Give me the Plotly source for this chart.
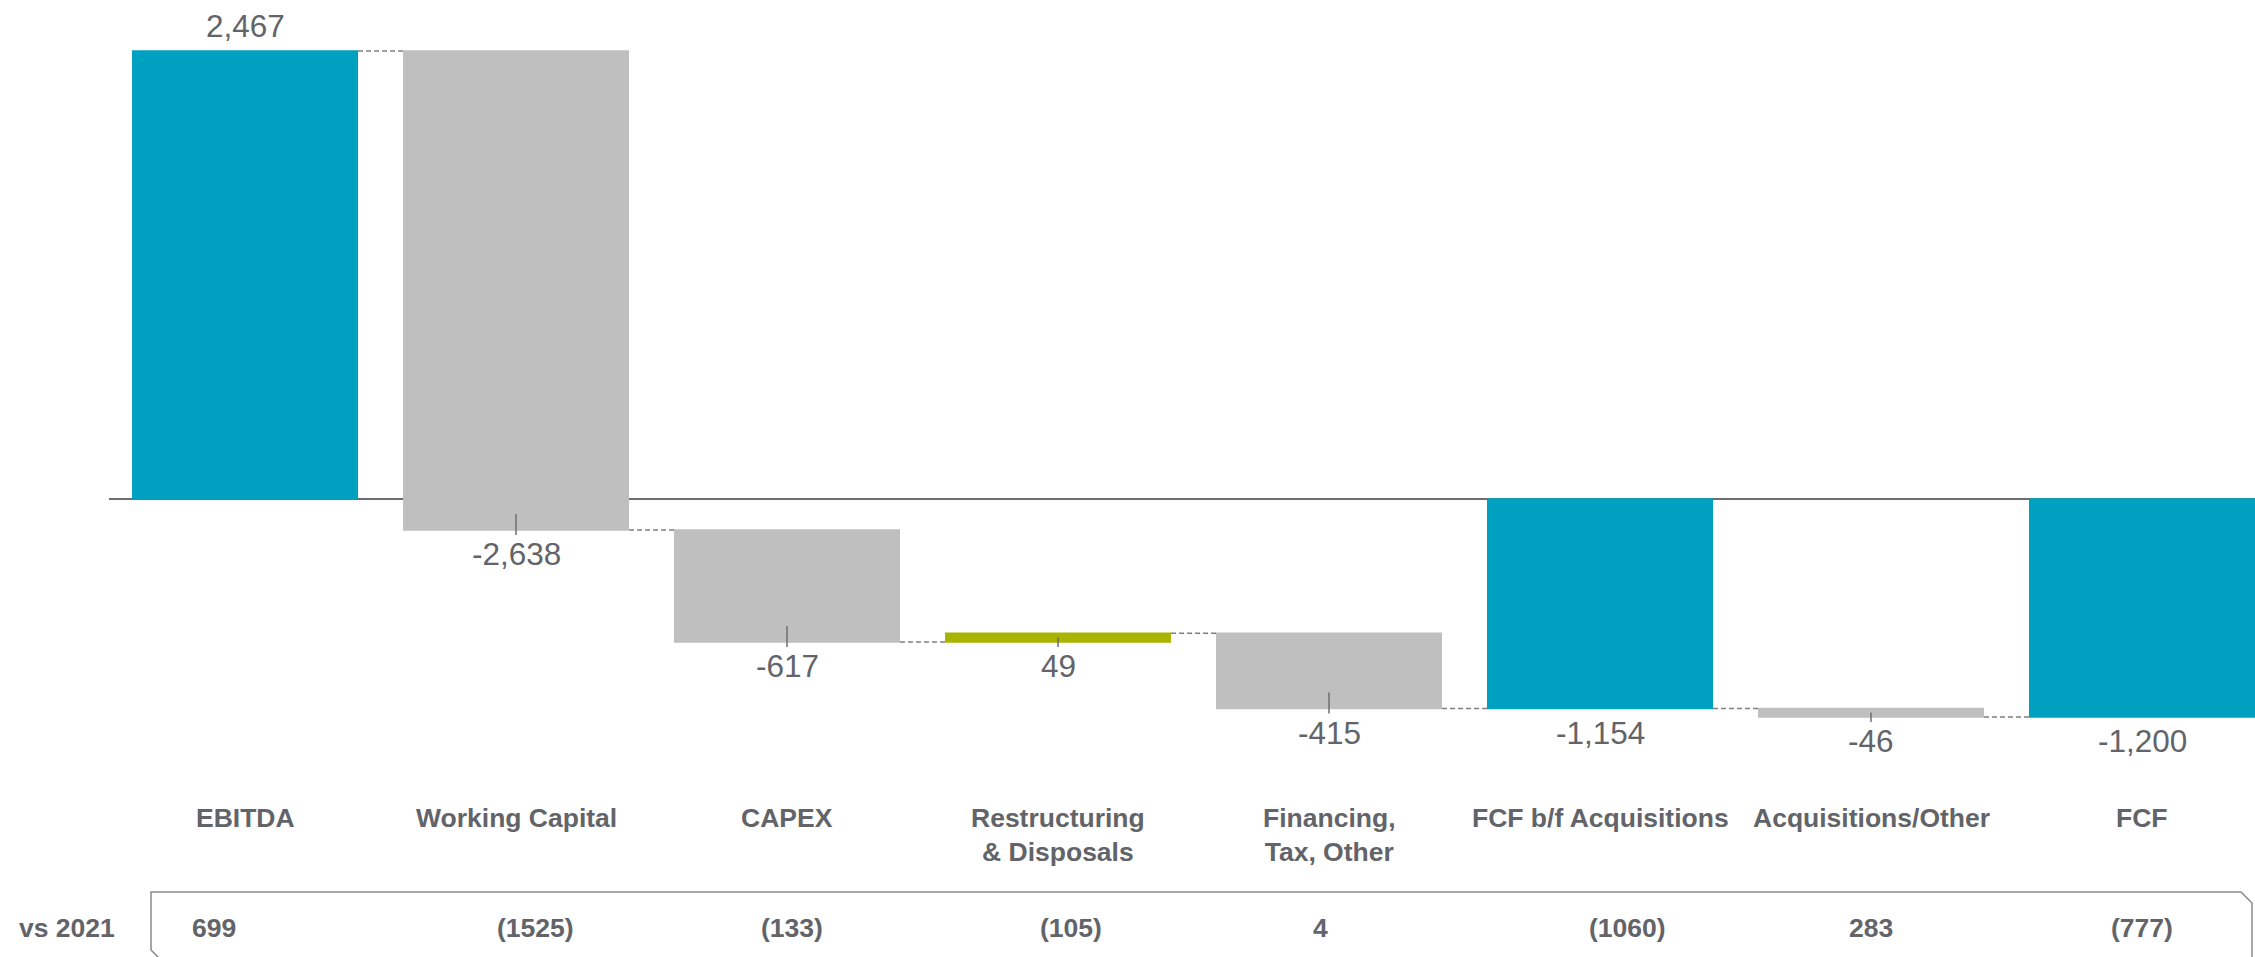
import plotly.graph_objects as go

# ---- data -------------------------------------------------------------
categories = [
    "EBITDA",
    "Working Capital",
    "CAPEX",
    "Restructuring<br>& Disposals",
    "Financing,<br>Tax, Other",
    "FCF b/f Acquisitions",
    "Acquisitions/Other",
    "FCF",
]
measures = ["absolute", "relative", "relative", "relative",
            "relative", "absolute", "relative", "absolute"]
values = [2467, -2638, -617, 49, -415, -1154, -46, -1200]
vs_2021 = ["699", "(1525)", "(133)", "(105)", "4", "(1060)", "283", "(777)"]

# ---- styling / layout constants --------------------------------------
W, H = 2255, 957
ML = 109                      # left margin (px) where the zero line starts
Y_MIN, Y_MAX = -2522, 2748    # value axis range
X_MIN, X_MAX = -0.502, 7.417  # category axis range

TEAL = "#00A0C0"
GREY = "#BFBFBF"
GREEN = "#A8B400"
TEXT = "#626469"
LINE = "#6D6E71"
FONT = "Arial, Liberation Sans, sans-serif"

# nudges for the "vs 2021" figures (px)
vs_shift = [-31, 19, 5, 13, -9, 27, 0, 0]


def paper_x(px):
    return (px - ML) / (W - ML)


def paper_y(py):
    return 1 - py / H


def units(px):
    """Convert a vertical pixel distance into value-axis units."""
    return px * (Y_MAX - Y_MIN) / H


xs = list(range(len(categories)))

fig = go.Figure(
    go.Waterfall(
        x=xs,
        y=values,
        measure=measures,
        increasing=dict(marker=dict(color=GREEN)),
        decreasing=dict(marker=dict(color=GREY)),
        totals=dict(marker=dict(color=TEAL)),
        connector=dict(mode="between",
                       line=dict(color="#7F7F7F", width=1.5, dash="5px,3px")),
        textinfo="none",
        hoverinfo="skip",
        showlegend=False,
    )
)

# running totals -> bar extents
annotations = []
shapes = []
run = 0
for i, (m, v) in enumerate(zip(measures, values)):
    if m == "absolute":
        start, end = 0, v
    else:
        start, end = run, run + v
    run = end
    lo, hi = min(start, end), max(start, end)

    # value label
    if lo >= 0:
        annotations.append(dict(x=i, y=hi, xref="x", yref="y", text=f"{v:,}",
                                showarrow=False, yanchor="middle", yshift=25,
                                font=dict(size=31.5, color=TEXT, family=FONT)))
    else:
        annotations.append(dict(x=i, y=lo, xref="x", yref="y", text=f"{v:,}",
                                showarrow=False, yanchor="middle", yshift=-24,
                                font=dict(size=31.5, color=TEXT, family=FONT)))

    # small leader tick on the movement bars
    if m == "relative":
        y0 = lo - units(5)
        y1 = min(lo + units(16), hi - units(4))
        shapes.append(dict(type="line", xref="x", yref="y", x0=i, x1=i,
                           y0=y0, y1=y1, line=dict(color=LINE, width=1.5)))

    # category label
    annotations.append(dict(x=i, y=paper_y(801), xref="x", yref="paper",
                            text=f"<b>{categories[i]}</b>", showarrow=False,
                            yanchor="top", align="center",
                            font=dict(size=26.5, color=TEXT, family=FONT)))

    # comparison row
    annotations.append(dict(x=i, y=paper_y(928), xref="x", yref="paper",
                            text=f"<b>{vs_2021[i]}</b>", showarrow=False,
                            yanchor="middle", xshift=vs_shift[i],
                            font=dict(size=26.5, color=TEXT, family=FONT)))

annotations.append(dict(x=paper_x(17), y=paper_y(928), xref="paper", yref="paper",
                        text="<b>vs 2021</b>", showarrow=False,
                        xanchor="left", yanchor="middle",
                        font=dict(size=26.5, color=TEXT, family=FONT)))

# frame around the comparison row (snipped diagonal corners)
L, T, R, B = paper_x(151), paper_y(892), paper_x(2252), paper_y(961)
cx = 11 / (W - ML)
cy = 11 / H
path = (f"M {L},{T} L {R - cx},{T} L {R},{T - cy} L {R},{B} "
        f"L {L + cx},{B} L {L},{B + cy} Z")
shapes.append(dict(type="path", xref="paper", yref="paper", path=path,
                   line=dict(color="#8A8A8A", width=1.5), layer="below"))

fig.update_layout(
    width=W, height=H,
    margin=dict(l=ML, r=0, t=0, b=0),
    paper_bgcolor="white", plot_bgcolor="white",
    waterfallgap=0.166,
    xaxis=dict(range=[X_MIN, X_MAX], showgrid=False, zeroline=False,
               showticklabels=False, ticks="", showline=False),
    yaxis=dict(range=[Y_MIN, Y_MAX], showgrid=False, zeroline=True,
               zerolinecolor=LINE, zerolinewidth=2,
               showticklabels=False, ticks="", showline=False),
    annotations=annotations,
    shapes=shapes,
    font=dict(family=FONT, color=TEXT),
)

fig.write_html("out.html")
